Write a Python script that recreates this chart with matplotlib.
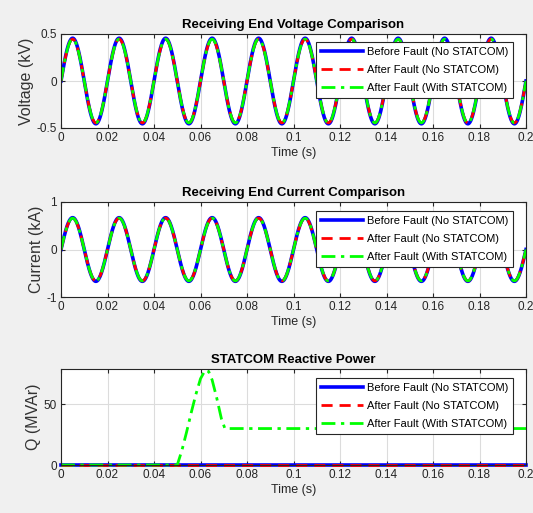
import numpy as np
import matplotlib
matplotlib.use("Agg")
import matplotlib.pyplot as plt

plt.rcParams['font.family'] = ['Liberation Sans', 'DejaVu Sans']
plt.rcParams['axes.unicode_minus'] = False

# signal parameters (50 Hz, 10 cycles in 0.2 s)
freq_hz = 50.0
v_amp = [0.455, 0.445, 0.445]     # kV: before fault, after fault, with STATCOM
i_amp = [0.67, 0.66, 0.66]        # kA
t_end = 0.2

# STATCOM reactive power (MVAr) breakpoints
q_time = [0.0, 0.050, 0.052, 0.054, 0.056, 0.058, 0.060, 0.062, 0.0635,
          0.065, 0.067, 0.069, 0.0705, 0.2]
q_statcom = [0.0, 0.0, 12.0, 27.0, 43.0, 58.0, 71.0, 78.0, 77.0,
             70.0, 55.0, 38.0, 30.0, 30.0]
q_none = [0.0, 0.0]

labels = ['Before Fault (No STATCOM)', 'After Fault (No STATCOM)',
          'After Fault (With STATCOM)']
styles = [dict(color='#0000ff', ls='-', lw=2.6),
          dict(color='#ff0000', ls='--', lw=2.0, dashes=(4, 2.5)),
          dict(color='#00ff00', ls='-.', lw=2.0, dashes=(5, 2, 1.2, 2))]

t = np.linspace(0, t_end, 2001)

fig = plt.figure(figsize=(5.33, 5.13), dpi=100, facecolor='#f0f0f0')

W, H = 533, 513
boxes = [(61, 34, 526, 128), (61, 202, 526, 297), (61, 369, 526, 465)]
axes = []
for (x0, y0, x1, y1) in boxes:
    ax = fig.add_axes([x0 / W, 1 - y1 / H, (x1 - x0) / W, (y1 - y0) / H])
    axes.append(ax)


def style_axes(ax, ylabel, title):
    ax.set_facecolor('white')
    ax.grid(True, color='#dcdcdc', lw=0.8)
    ax.set_axisbelow(True)
    ax.tick_params(direction='in', top=True, right=True, labelsize=8.5,
                   colors='#262626', length=3, pad=3)
    for s in ax.spines.values():
        s.set_color('#262626')
        s.set_linewidth(0.8)
    ax.set_xlim(0, 0.2)
    ax.set_xticks(np.arange(0, 0.201, 0.02))
    ax.set_xticklabels(['0', '0.02', '0.04', '0.06', '0.08', '0.1', '0.12',
                        '0.14', '0.16', '0.18', '0.2'])
    ax.set_xlabel('Time (s)', fontsize=9, color='#262626', labelpad=2)
    ax.set_ylabel(ylabel, fontsize=11.5, color='#333333', labelpad=2)
    ax.set_title(title, fontsize=9.5, fontweight='bold', pad=4)


def add_legend(ax, anchor):
    leg = ax.legend(loc='upper right', bbox_to_anchor=anchor, fontsize=8,
                    handlelength=3.8, framealpha=1, fancybox=False,
                    edgecolor='#262626', borderpad=0.45, labelspacing=0.72,
                    handletextpad=0.3, borderaxespad=0)
    leg.get_frame().set_linewidth(0.8)


# voltage
ax = axes[0]
for a, lab, st in zip(v_amp, labels, styles):
    ax.plot(t, a * np.sin(2 * np.pi * freq_hz * t), label=lab, **st)
style_axes(ax, 'Voltage (kV)', 'Receiving End Voltage Comparison')
ax.set_ylim(-0.5, 0.5)
ax.set_yticks([-0.5, 0, 0.5])
ax.set_yticklabels(['-0.5', '0', '0.5'])
add_legend(ax, (0.972, 0.915))

# current
ax = axes[1]
for a, lab, st in zip(i_amp, labels, styles):
    ax.plot(t, a * np.sin(2 * np.pi * freq_hz * t), label=lab, **st)
style_axes(ax, 'Current (kA)', 'Receiving End Current Comparison')
ax.set_ylim(-1, 1)
ax.set_yticks([-1, 0, 1])
add_legend(ax, (0.972, 0.908))

# reactive power
ax = axes[2]
ax.plot([0, t_end], q_none, label=labels[0], **styles[0])
ax.plot([0, t_end], q_none, label=labels[1], **styles[1])
ax.plot(q_time, q_statcom, label=labels[2], **styles[2])
style_axes(ax, 'Q (MVAr)', 'STATCOM Reactive Power')
ax.set_ylim(0, 79)
ax.set_yticks([0, 50])
add_legend(ax, (0.972, 0.903))
for ln in ax.get_lines():
    ln.set_clip_on(False)

fig.savefig('out.png', dpi=100, facecolor=fig.get_facecolor())
